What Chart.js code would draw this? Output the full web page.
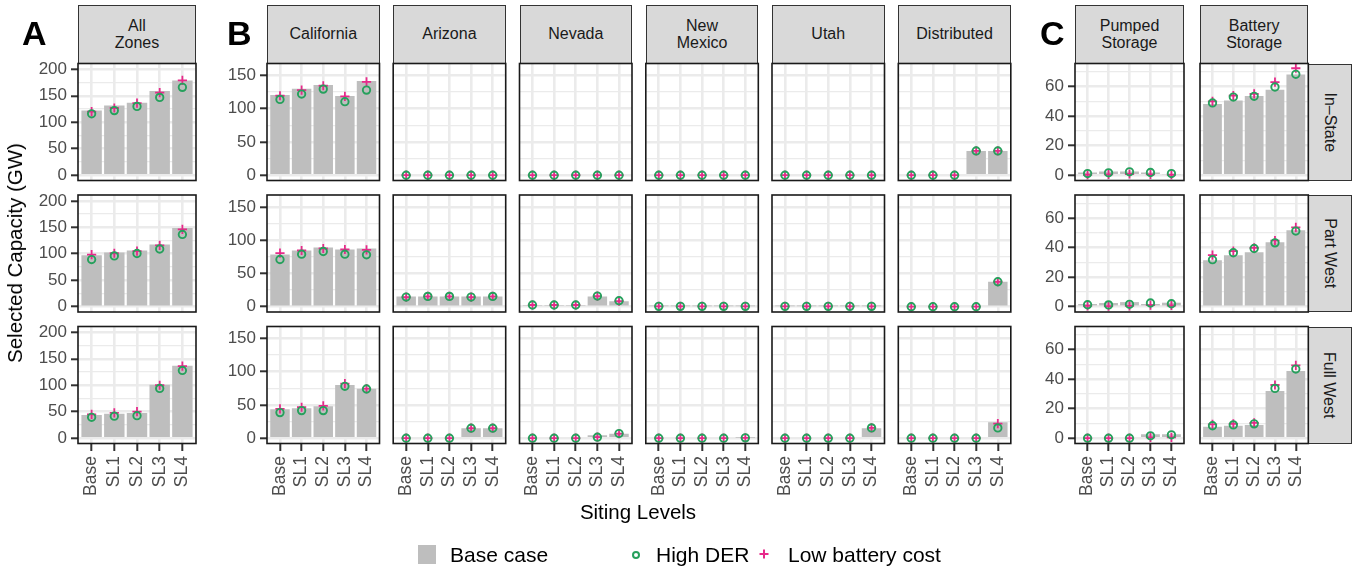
<!DOCTYPE html>
<html>
<head>
<meta charset="utf-8">
<script src="https://cdn.jsdelivr.net/npm/chart.js@4.4.1/dist/chart.umd.min.js"></script>
<style>
  html, body { margin: 0; padding: 0; background: #fff; }
  body { width: 1354px; height: 567px; position: relative; overflow: hidden;
         font-family: "Liberation Sans", Arial, Helvetica, sans-serif; }
  canvas { position: absolute; }
  .strip { position: absolute; background: #d9d9d9; border: 1.6px solid #333; box-sizing: border-box;
           display: flex; align-items: center; justify-content: center; text-align: center;
           font-size: 16px; line-height: 16.5px; color: #1a1a1a; white-space: pre-line; }
  .strip.side span { display: block; transform: rotate(90deg); white-space: nowrap; }
  .tag { position: absolute; font-weight: bold; font-size: 34px; line-height: 34px; color: #000; }
  .title { position: absolute; font-size: 20.5px; line-height: 24px; color: #000; white-space: nowrap; }
  .ltext { position: absolute; top: 543px; font-size: 21px; line-height: 24px; color: #000; white-space: nowrap; }
</style>
</head>
<body>
<script>
// ---- categories and labels ----
const sitingLevels = ['Base', 'SL1', 'SL2', 'SL3', 'SL4'];
const scenarioLabels = ['In–State', 'Part West', 'Full West'];
const zoneLabels = ['All\nZones', 'California', 'Arizona', 'Nevada', 'New\nMexico', 'Utah',
                    'Distributed', 'Pumped\nStorage', 'Battery\nStorage'];

// ---- selected capacity (GW); one row per scenario: In–State, Part West, Full West ----
const allZonesBase      = [[122, 131.5, 137, 159, 179], [97, 102.5, 106, 117.5, 148.5], [44, 46, 47.5, 101, 137]];
const allZonesHighDER   = [[116, 122, 130, 147, 166], [89, 96, 100.5, 109, 136.5], [39.5, 41.5, 42.5, 94, 128]];
const allZonesLowBatt   = [[120, 127, 136, 156, 179], [98.5, 101, 105, 116, 146], [45, 48, 50, 100, 136]];

const californiaBase    = [[120.5, 130, 135.5, 119, 141.5], [78.5, 84.5, 89, 86, 87.5], [43.5, 45, 48, 80, 74.5]];
const californiaHighDER = [[114, 122, 129.5, 110.5, 128], [71, 79, 83, 79, 78], [38.5, 41.5, 41.5, 78, 74]];
const californiaLowBatt = [[119.5, 128, 134.5, 118.5, 140.5], [80.5, 84.5, 87.5, 86, 85.5], [44, 46.5, 48.5, 82, 74.5]];

const arizonaBase       = [[0, 0, 0, 0, 0], [15.5, 15.5, 15.5, 15.5, 15.5], [0, 0, 0, 15, 15]];
const arizonaHighDER    = [[0, 0, 0, 0, 0], [14.5, 15.5, 15.5, 14.5, 15.5], [0, 0, 0, 15, 15]];
const arizonaLowBatt    = [[0, 0, 0, 0, 0], [14.5, 15.5, 15.5, 14.5, 15.5], [0, 0, 0, 15, 15]];

const nevadaBase        = [[0, 0, 0, 0, 0], [2.5, 2.5, 2.5, 15.5, 8], [0, 0, 0, 4.5, 6.5]];
const nevadaHighDER     = [[0, 0, 0, 0, 0], [2.5, 2.5, 2.5, 16, 9], [0, 0, 0, 1.5, 7]];
const nevadaLowBatt     = [[0, 0, 0, 0, 0], [2.5, 2.5, 2.5, 16, 8.5], [0, 0, 0, 1.5, 7]];

const newMexicoBase     = [[0, 0, 0, 0, 0], [0.5, 0.5, 0.5, 0.5, 0.5], [0, 0, 0, 0, 0.5]];
const newMexicoHighDER  = [[0, 0, 0, 0, 0], [0.5, 0.5, 0.5, 0.5, 0.5], [0, 0, 0, 0, 0.5]];
const newMexicoLowBatt  = [[0, 0, 0, 0, 0], [0.5, 0.5, 0.5, 0.5, 0.5], [0, 0, 0, 0, 0.5]];

const utahBase          = [[0, 0, 0, 0, 0], [0.5, 0.5, 0.5, 0.5, 0.5], [0, 0, 0, 0, 15]];
const utahHighDER       = [[0, 0, 0, 0, 0], [0.5, 0.5, 0.5, 0.5, 0.5], [0, 0, 0, 0, 15.5]];
const utahLowBatt       = [[0, 0, 0, 0, 0], [0.5, 0.5, 0.5, 0.5, 0.5], [0, 0, 0, 0, 15.5]];

const distributedBase    = [[0, 0, 0, 36.5, 36.5], [0, 0, 0, 0, 37.5], [0, 0, 0, 0, 24]];
const distributedHighDER = [[0, 0, 0, 36.5, 36.5], [0, 0, 0, 0, 37.5], [0, 0, 0, 0, 15.5]];
const distributedLowBatt = [[0, 0, 0, 36.5, 36.5], [0, 0, 0, 0, 37.5], [0, 0, 0, 0, 22]];

const pumpedBase        = [[1.8, 2.5, 2.5, 1.8, 0.7], [1.8, 2.5, 3.1, 1.8, 2.7], [0, 0, 0, 2.7, 2.7]];
const pumpedHighDER     = [[1.1, 1.6, 2.3, 1.8, 1.1], [1.3, 1.2, 1.6, 2.5, 2], [0, 0, 0, 1.6, 2.3]];
const pumpedLowBatt     = [[0.3, 0.5, 0.8, 0.5, 0.3], [0.5, 0.4, 0.6, 1, 0.8], [0, 0, 0, 0.5, 0.5]];

const batteryBase       = [[48.2, 50.5, 53.6, 57.9, 68.1], [31.5, 34.9, 36.9, 43.6, 51.7], [7.7, 8.4, 9, 31.9, 45.5]];
const batteryHighDER    = [[48.9, 52.9, 53.4, 59.7, 68.3], [31.8, 36.5, 39.4, 43.2, 51.2], [8.4, 9, 9.7, 33.7, 46.8]];
const batteryLowBatt    = [[50, 53.8, 55, 63, 72.4], [34.9, 37.6, 39.8, 44.7, 53.7], [9.3, 9.7, 10.4, 36, 49.3]];

// ---- y axis ticks and limits for the three panel groups ----
const yMajorA = [0, 50, 100, 150, 200];
const yMinorA = [25, 75, 125, 175];
const yLimitsA = [-10.05, 211.05];
const yMajorB = [0, 50, 100, 150];
const yMinorB = [25, 75, 125];
const yLimitsB = [-8, 168];
const yMajorC = [0, 20, 40, 60];
const yMinorC = [10, 30, 50, 70];
const yLimitsC = [-3.6, 75.6];

// ---- facet table ----
const axisA = { major: yMajorA, minor: yMinorA, limits: yLimitsA };
const axisB = { major: yMajorB, minor: yMinorB, limits: yLimitsB };
const axisC = { major: yMajorC, minor: yMinorC, limits: yLimitsC };
const facets = [
  { base: allZonesBase,    der: allZonesHighDER,    lbc: allZonesLowBatt,    axis: axisA, showY: true },
  { base: californiaBase,  der: californiaHighDER,  lbc: californiaLowBatt,  axis: axisB, showY: true },
  { base: arizonaBase,     der: arizonaHighDER,     lbc: arizonaLowBatt,     axis: axisB, showY: false },
  { base: nevadaBase,      der: nevadaHighDER,      lbc: nevadaLowBatt,      axis: axisB, showY: false },
  { base: newMexicoBase,   der: newMexicoHighDER,   lbc: newMexicoLowBatt,   axis: axisB, showY: false },
  { base: utahBase,        der: utahHighDER,        lbc: utahLowBatt,        axis: axisB, showY: false },
  { base: distributedBase, der: distributedHighDER, lbc: distributedLowBatt, axis: axisB, showY: false },
  { base: pumpedBase,      der: pumpedHighDER,      lbc: pumpedLowBatt,      axis: axisC, showY: true },
  { base: batteryBase,     der: batteryHighDER,     lbc: batteryLowBatt,     axis: axisC, showY: false }
];

// ---- layout ----
const FONT = '"Liberation Sans", Arial, Helvetica, sans-serif';
const colLeft  = [78, 267, 393.2, 519.5, 645.8, 772, 898.3, 1075, 1200];
const colWidth = [118, 112.5, 112.5, 112.5, 112.5, 112.5, 112.5, 109, 108.3];
const rowTop = [63.5, 195, 326.5];
const rowHeight = 117;
const STRIP_TOP = 5;
const SIDE_STRIP_W = 44;
const Y_AXIS_W = 60, X_AXIS_H = 64, MARGIN = 12;
const GRID = '#ebebeb';
const TICK_TEXT = '#4d4d4d';
const BAR_FILL = '#bebebe';
const DER_GREEN = '#26a05c';
const LBC_MAGENTA = '#e7298a';

const panelFrame = {
  id: 'panelFrame',
  afterDraw(chart) {
    const { ctx, chartArea: a } = chart;
    ctx.save();
    ctx.strokeStyle = '#1a1a1a';
    ctx.lineWidth = 1.6;
    ctx.strokeRect(a.left, a.top, a.right - a.left, a.bottom - a.top);
    ctx.restore();
  }
};

function toPoints(values) {
  return values.map((v, i) => ({ x: i + 1, y: v }));
}

function makePanel(col, row) {
  const f = facets[col];
  const showY = f.showY;
  const showX = row === rowTop.length - 1;
  const yW = showY ? Y_AXIS_W : 0;
  const xH = showX ? X_AXIS_H : 0;
  const pl = colLeft[col], pt = rowTop[row], pw = colWidth[col];

  const cl = Math.floor(pl - yW - MARGIN);
  const ct = Math.floor(pt - MARGIN);
  const cr = Math.ceil(pl + pw + MARGIN);
  const cb = Math.ceil(pt + rowHeight + xH + MARGIN);

  const canvas = document.createElement('canvas');
  canvas.width = cr - cl;
  canvas.height = cb - ct;
  canvas.style.left = cl + 'px';
  canvas.style.top = ct + 'px';
  canvas.style.width = (cr - cl) + 'px';
  canvas.style.height = (cb - ct) + 'px';
  document.body.appendChild(canvas);

  const isMajor = v => f.axis.major.includes(v);
  const yTickValues = [...f.axis.major, ...f.axis.minor].sort((a, b) => a - b);

  new Chart(canvas, {
    type: 'bar',
    data: {
      datasets: [
        {
          type: 'bar', label: 'Base case', data: toPoints(f.base[row]),
          backgroundColor: BAR_FILL, borderWidth: 0,
          categoryPercentage: 1, barPercentage: 0.9, order: 3
        },
        {
          type: 'scatter', label: 'Low battery cost', data: toPoints(f.lbc[row]),
          pointStyle: 'cross', pointRadius: 4.6, pointBorderWidth: 1.8,
          pointBorderColor: LBC_MAGENTA, borderColor: LBC_MAGENTA,
          pointBackgroundColor: LBC_MAGENTA, showLine: false, order: 2, clip: 0
        },
        {
          type: 'scatter', label: 'High DER', data: toPoints(f.der[row]),
          pointStyle: 'circle', pointRadius: 3.7, pointBorderWidth: 1.9,
          pointBorderColor: DER_GREEN, borderColor: DER_GREEN,
          pointBackgroundColor: 'rgba(0,0,0,0)', showLine: false, order: 1, clip: 0
        }
      ]
    },
    options: {
      responsive: false,
      animation: false,
      events: [],
      devicePixelRatio: 1,
      layout: {
        padding: {
          left: pl - yW - cl,
          top: pt - ct,
          right: cr - (pl + pw),
          bottom: cb - (pt + rowHeight + xH)
        }
      },
      plugins: { legend: { display: false }, tooltip: { enabled: false } },
      scales: {
        x: {
          type: 'linear', min: 0.4, max: 5.6, offset: false,
          afterBuildTicks: s => { s.ticks = sitingLevels.map((_, i) => ({ value: i + 1 })); },
          afterFit: s => { s.height = xH; s.paddingLeft = 0; s.paddingRight = 0; },
          border: { display: false },
          grid: {
            offset: false, color: GRID, lineWidth: 2.6,
            drawTicks: showX, tickLength: 7.5, tickColor: '#333333', tickWidth: 2
          },
          ticks: {
            display: showX, autoSkip: false, minRotation: 90, maxRotation: 90, padding: 5,
            color: TICK_TEXT, font: { family: FONT, size: 17.5 },
            callback: v => sitingLevels[Math.round(v) - 1]
          }
        },
        y: {
          type: 'linear', min: f.axis.limits[0], max: f.axis.limits[1],
          afterBuildTicks: s => { s.ticks = yTickValues.map(v => ({ value: v })); },
          afterFit: s => { s.width = yW; s.paddingTop = 0; s.paddingBottom = 0; },
          border: { display: false },
          grid: {
            color: GRID,
            lineWidth: ctx => (ctx.tick && isMajor(ctx.tick.value)) ? 2.6 : 1.3,
            drawTicks: showY, tickLength: 7, tickWidth: 2,
            tickColor: ctx => (ctx.tick && isMajor(ctx.tick.value)) ? '#333333' : 'rgba(0,0,0,0)'
          },
          ticks: {
            display: showY, autoSkip: false, padding: 4,
            color: TICK_TEXT, font: { family: FONT, size: 17 },
            callback: v => isMajor(v) ? String(v) : ''
          }
        }
      }
    },
    plugins: [panelFrame]
  });
}

function addDiv(cls, text, style) {
  const d = document.createElement('div');
  d.className = cls;
  if (text !== null) d.textContent = text;
  Object.assign(d.style, style);
  document.body.appendChild(d);
  return d;
}

// top strips
zoneLabels.forEach((lab, c) => {
  addDiv('strip', lab, {
    left: colLeft[c] + 'px', top: STRIP_TOP + 'px',
    width: colWidth[c] + 'px', height: (rowTop[0] - STRIP_TOP + 0.8) + 'px'
  });
});

// side strips
scenarioLabels.forEach((lab, r) => {
  const s = addDiv('strip side', null, {
    left: (colLeft[8] + colWidth[8] - 0.8) + 'px', top: rowTop[r] + 'px',
    width: SIDE_STRIP_W + 'px', height: rowHeight + 'px'
  });
  const sp = document.createElement('span');
  sp.textContent = lab;
  s.appendChild(sp);
});

// panels
for (let r = 0; r < rowTop.length; r++) {
  for (let c = 0; c < facets.length; c++) makePanel(c, r);
}

// panel group tags
addDiv('tag', 'A', { left: '22px', top: '16px' });
addDiv('tag', 'B', { left: '227px', top: '16px' });
addDiv('tag', 'C', { left: '1040px', top: '16px' });

// axis titles
addDiv('title', 'Selected Capacity (GW)', {
  left: '15px', top: '253px', transform: 'translate(-50%, -50%) rotate(-90deg)'
});
addDiv('title', 'Siting Levels', { left: '638px', top: '512px', transform: 'translate(-50%, -50%)' });

// legend
addDiv('lkey', null, { position: 'absolute', left: '418px', top: '545px', width: '18px', height: '19px', background: BAR_FILL });
addDiv('ltext', 'Base case', { left: '450px' });
const svgNS = 'http://www.w3.org/2000/svg';
function legendSvg(left, top, build) {
  const svg = document.createElementNS(svgNS, 'svg');
  svg.setAttribute('width', '14'); svg.setAttribute('height', '14');
  svg.style.position = 'absolute'; svg.style.left = left + 'px'; svg.style.top = top + 'px';
  build(svg);
  document.body.appendChild(svg);
}
legendSvg(629, 548, svg => {
  const c = document.createElementNS(svgNS, 'circle');
  c.setAttribute('cx', '7'); c.setAttribute('cy', '7'); c.setAttribute('r', '3');
  c.setAttribute('fill', 'none'); c.setAttribute('stroke', DER_GREEN); c.setAttribute('stroke-width', '2');
  svg.appendChild(c);
});
addDiv('ltext', 'High DER', { left: '656px' });
legendSvg(757, 547, svg => {
  const p = document.createElementNS(svgNS, 'path');
  p.setAttribute('d', 'M7 2.5 V11.5 M2.5 7 H11.5');
  p.setAttribute('stroke', LBC_MAGENTA); p.setAttribute('stroke-width', '2');
  svg.appendChild(p);
});
addDiv('ltext', 'Low battery cost', { left: '788px' });
</script>
</body>
</html>
